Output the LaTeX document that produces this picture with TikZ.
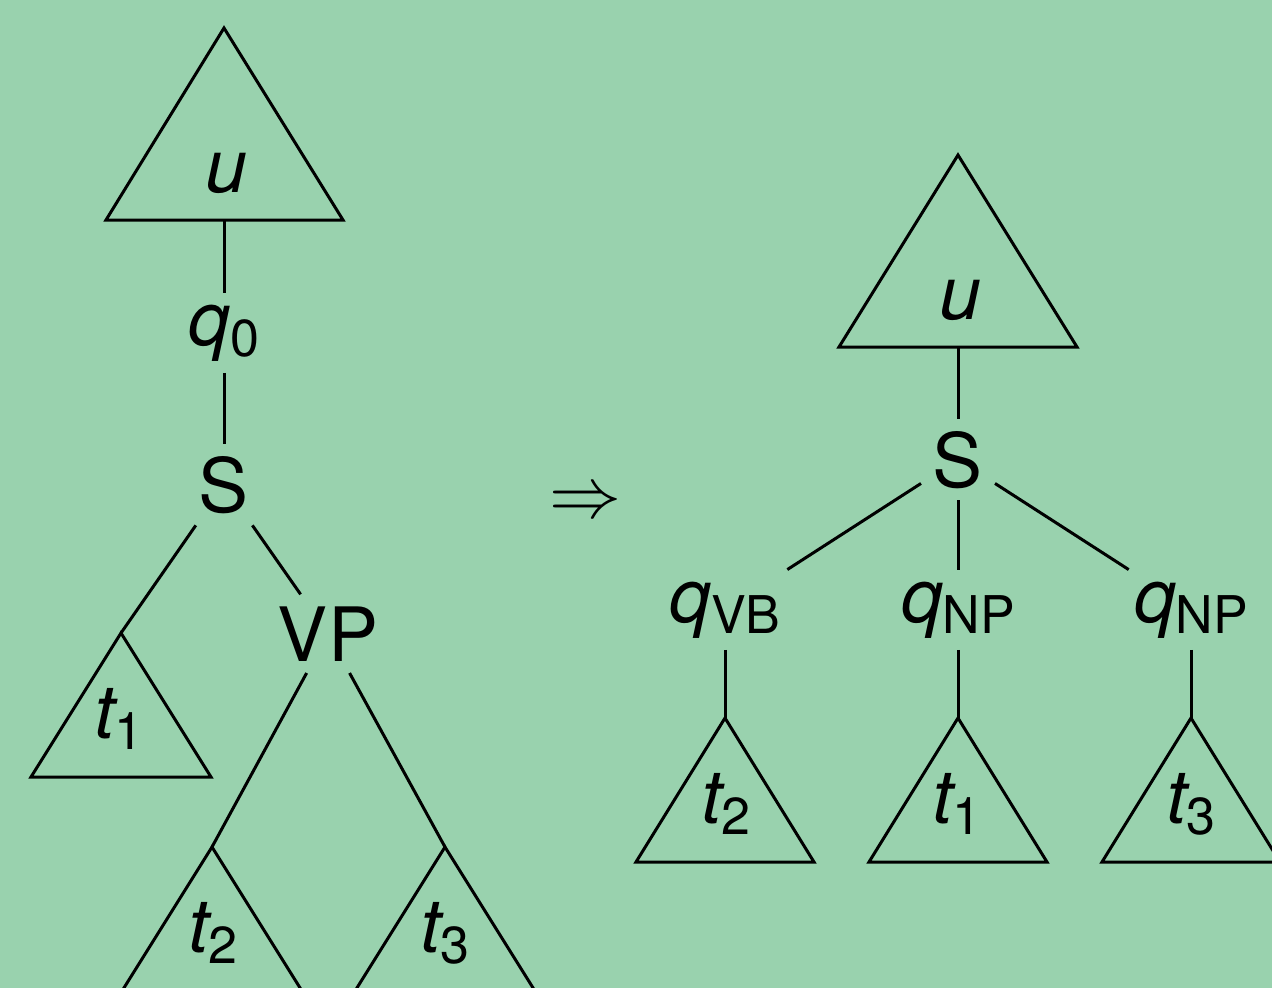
\documentclass[tikz,border=0pt]{standalone}
\usepackage{fontspec}
\setmainfont{TeX Gyre Heros}
\definecolor{bg}{RGB}{153,210,174}
\newcommand\bigf{\fontsize{75}{90}\selectfont}
\newcommand\subf{\fontsize{52}{60}\selectfont}
\newcommand\isub[2]{{\itshape #1}\raisebox{-11pt}{\subf #2}}
\begin{document}
\begin{tikzpicture}[x=1pt,y=-1pt,line width=3pt,
  lab/.style={font=\bigf,inner sep=12pt,outer sep=0pt,anchor=base},
  tlab/.style={font=\bigf,inner sep=0pt,anchor=base},
  tri/.style={line width=3pt,line join=miter}]
\fill[bg] (0,0) rectangle (1272,988);
\useasboundingbox (0,0) rectangle (1272,988);

% ---------- left tree ----------
\coordinate (LuTop) at (224,28);
\coordinate (LuBase) at (224,220);
\draw[tri] (LuTop) -- (106,220) -- (343,220) -- cycle;
\node[tlab] (Lu) at (226,192) {\itshape u};

\node[lab] (Lq0) at (224,345) {\isub{q}{0}};
\node[lab] (LS) at (224,512) {S};
\node[lab] (LVP) at (328,661) {VP};

\coordinate (Lt1) at (121,633);
\draw[tri] (Lt1) -- (31,777) -- (211,777) -- cycle;
\node[tlab] (Lt1l) at (119,738) {\isub{t}{1}};

\coordinate (Lt2) at (212,847);
\draw[tri] (Lt2) -- (122,991) -- (302,991) -- cycle;
\node[tlab] (Lt2l) at (213,952) {\isub{t}{2}};

\coordinate (Lt3) at (445,847);
\draw[tri] (Lt3) -- (355,991) -- (535,991) -- cycle;
\node[tlab] (Lt3l) at (445,952) {\isub{t}{3}};

\draw (LuBase) -- (Lq0);
\draw (Lq0) -- (LS);
\draw (LS) -- (Lt1);
\draw (LS) -- (LVP);
\draw (LVP) -- (Lt2);
\draw (LVP) -- (Lt3);

% ---------- arrow ----------
\node[inner sep=0pt] (arr) at (585,504) {\scalebox{7.2}{$\Rightarrow$}};

% ---------- right tree ----------
\coordinate (RuTop) at (958,155);
\coordinate (RuBase) at (958,347);
\draw[tri] (RuTop) -- (839,347) -- (1077,347) -- cycle;
\node[tlab] (Ru) at (960,319) {\itshape u};

\node[lab] (RS) at (958,487) {S};
\node[lab] (RqVB) at (725,622) {\isub{q}{VB}};
\node[lab] (RqNP) at (958,622) {\isub{q}{NP}};
\node[lab] (RqNPb) at (1191,622) {\isub{q}{NP}};

\coordinate (Rt2) at (725,718);
\draw[tri] (Rt2) -- (636,862) -- (814,862) -- cycle;
\node[tlab] (Rt2l) at (726,823) {\isub{t}{2}};

\coordinate (Rt1) at (958,718);
\draw[tri] (Rt1) -- (869,862) -- (1047,862) -- cycle;
\node[tlab] (Rt1l) at (957,823) {\isub{t}{1}};

\coordinate (Rt3) at (1191,718);
\draw[tri] (Rt3) -- (1102,862) -- (1280,862) -- cycle;
\node[tlab] (Rt3l) at (1191,823) {\isub{t}{3}};

\draw (RuBase) -- (RS);
\draw (RS) -- (RqVB);
\draw (RS) -- (RqNP);
\draw (RS) -- (RqNPb);
\draw (RqVB) -- (Rt2);
\draw (RqNP) -- (Rt1);
\draw (RqNPb) -- (Rt3);
\end{tikzpicture}
\end{document}
